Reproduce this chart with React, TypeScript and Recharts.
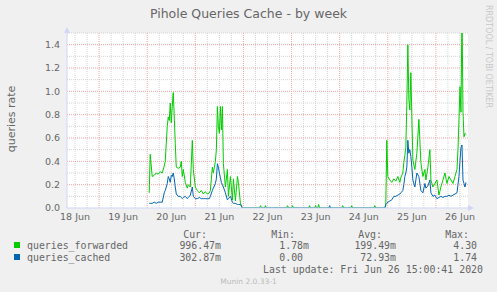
import React from 'react';
import { LineChart, Line, XAxis, YAxis, CartesianGrid, ReferenceLine } from 'recharts';

// time in hours since 18 Jun 00:00
const hours = [
  49, 49.5, 50.5, 51.5, 52.5, 53.5, 54.5, 55.5, 56.5, 57,
  58, 58.5, 59, 59.5, 60, 60.5, 61, 61.5, 62, 62.5,
  63.5, 64.5, 65, 65.5, 66, 67, 68, 68.5, 69.5, 70.5,
  71, 72, 73, 74, 75, 76, 77, 78, 79, 79.5,
  80.5, 81, 82, 82.5, 83, 83.5, 84, 84.5, 85, 85.5,
  86, 87, 88, 88.5, 89.5, 90.5, 91, 92, 93, 93.5,
  94.5, 95.5,
  96, 104, 104.5, 105, 106.5, 107, 107.5, 117.5, 118, 118.5,
  120, 120.5, 121, 128.5, 129, 129.5, 131.5, 132, 132.5, 133,
  133.5, 134, 138.5, 139, 139.5, 145, 145.5, 146, 149.5, 150,
  150.5, 161, 161.5, 162, 166.5,
  167, 167.5, 168, 169, 170, 171, 172, 173, 174, 174.5,
  175.5, 176, 176.5, 177, 177.5, 178, 178.5, 179, 179.5, 180,
  180.5, 181.5, 182.5, 183.5, 184.5, 185.5, 186.5, 187, 188, 189,
  189.5, 190.5, 191.5, 192.5, 193.5, 194.5, 195.5, 196.5, 197.5, 198.5,
  199.5, 200.5, 201.5, 202.5, 203, 203.5, 204, 204.5, 205, 205.5,
  206, 206.5, 207,
];

const forwarded = [
  0.13, 0.46, 0.27, 0.28, 0.30, 0.29, 0.31, 0.30, 0.36, 0.40,
  0.70, 0.78, 0.75, 0.90, 0.73, 0.87, 0.99, 0.78, 0.55, 0.35,
  0.34, 0.35, 0.40, 0.27, 0.33, 0.22, 0.17, 0.20, 0.18, 0.58,
  0.33, 0.18, 0.15, 0.13, 0.15, 0.12, 0.14, 0.12, 0.13, 0.15,
  0.35, 0.30, 0.40, 0.50, 0.87, 0.70, 0.64, 0.87, 0.67, 0.87,
  0.38, 0.18, 0.33, 0.10, 0.27, 0.07, 0.25, 0.06, 0.27, 0.22,
  0.04, 0,
  0, 0, 0.02, 0, 0, 0.02, 0, 0, 0.02, 0,
  0, 0.02, 0, 0, 0.02, 0, 0, 0.02, 0, 0,
  0.03, 0, 0, 0, 0, 0, 0.02, 0, 0, 0.02,
  0, 0, 0.02, 0, 0,
  0.02, 0.58, 0.27, 0.24, 0.22, 0.25, 0.23, 0.27, 0.22, 0.26,
  0.30, 0.39, 0.45, 0.52, 0.90, 1.40, 0.93, 0.84, 1.16, 0.78,
  0.41, 0.33, 0.47, 0.76, 0.39, 0.27, 0.33, 0.24, 0.35, 0.50,
  0.24, 0.18, 0.21, 0.24, 0.11, 0.18, 0.24, 0.30, 0.21, 0.27,
  0.24, 0.21, 0.27, 0.33, 0.50, 0.76, 1.04, 0.82, 1.70, 0.82,
  0.61, 0.64, 0.63,
];

const cached = [
  0.04, 0.04, 0.04, 0.05, 0.04, 0.05, 0.05, 0.05, 0.13, 0.15,
  0.21, 0.27, 0.25, 0.22, 0.28, 0.27, 0.30, 0.25, 0.18, 0.12,
  0.10, 0.10, 0.09, 0.08, 0.09, 0.10, 0.08, 0.09, 0.11, 0.18,
  0.10, 0.08, 0.08, 0.09, 0.08, 0.08, 0.08, 0.08, 0.08, 0.10,
  0.15, 0.17, 0.21, 0.25, 0.38, 0.35, 0.30, 0.26, 0.22, 0.20,
  0.18, 0.13, 0.07, 0.08, 0.10, 0.05, 0.04, 0.04, 0.03, 0.03,
  0.03, 0,
  0, 0, 0, 0, 0, 0, 0, 0, 0, 0,
  0, 0, 0, 0, 0, 0, 0, 0, 0, 0,
  0, 0, 0, 0.02, 0, 0, 0, 0, 0, 0,
  0, 0, 0, 0, 0,
  0.03, 0.04, 0.05, 0.06, 0.07, 0.10, 0.10, 0.11, 0.12, 0.13,
  0.15, 0.20, 0.27, 0.30, 0.35, 0.58, 0.47, 0.50, 0.44, 0.35,
  0.24, 0.18, 0.30, 0.27, 0.15, 0.13, 0.21, 0.17, 0.19, 0.24,
  0.13, 0.10, 0.11, 0.08, 0.09, 0.10, 0.09, 0.10, 0.10, 0.11,
  0.10, 0.11, 0.12, 0.13, 0.20, 0.27, 0.40, 0.52, 0.54, 0.24,
  0.21, 0.18, 0.22,
];

const dayTickHours = [12, 36, 60, 84, 108, 132, 156, 180, 204];
const dayLabels = ['18 Jun', '19 Jun', '20 Jun', '21 Jun', '22 Jun', '23 Jun', '24 Jun', '25 Jun', '26 Jun'];
const dayBoundaries = [24, 48, 72, 96, 120, 144, 168, 192];
const yTicks = [0, 0.2, 0.4, 0.6, 0.8, 1.0, 1.2, 1.4];
const minorY = [0.1, 0.3, 0.5, 0.7, 0.9, 1.1, 1.3, 1.5];

const seriesNames = ['queries_forwarded', 'queries_cached'];
const seriesColors = ['#00CC00', '#0066B3'];
const curValues = ['996.47m', '302.87m'];
const minValues = ['1.78m', '0.00'];
const avgValues = ['199.49m', '72.93m'];
const maxValues = ['4.30', '1.74'];
const colHeaders = ['Cur:', 'Min:', 'Avg:', 'Max:'];

const sixHourLines: number[] = [];
for (let h = 12; h <= 206; h += 6) if (h % 24 !== 0) sixHourLines.push(h);

const data = hours.map((h, i) => ({ h, forwarded: forwarded[i], cached: cached[i] }));

const AXIS = '#CFD6F8';
const FONT = '#666666';
const SANS = 'DejaVu Sans';
const MONO = 'DejaVu Sans Mono';

const ArrowRight = (props: any) => {
  const vb = props.viewBox || {};
  const x = vb.x + vb.width;
  const y = vb.y;
  return <polygon points={`${x},${y - 3} ${x + 6},${y} ${x},${y + 3}`} fill={AXIS} />;
};
const ArrowUp = (props: any) => {
  const vb = props.viewBox || {};
  const x = vb.x;
  const y = vb.y;
  return <polygon points={`${x - 3},${y} ${x},${y - 6} ${x + 3},${y}`} fill={AXIS} />;
};

const pad = (v: string) => (/[a-zA-Z]$/.test(v) ? v : v + ' ');
const colEnds = [221, 309, 396, 483];

export default function App() {
  return (
    <div style={{ position: 'absolute', left: 0, top: 0, width: 497, height: 292, background: '#F0F0F0' }}>
      <LineChart width={497} height={292} data={data} margin={{ top: 33, right: 29, bottom: 64, left: 7 }}>
        <CartesianGrid
          fill="#FFFFFF"
          stroke="#d4d4d4"
          strokeDasharray="1 1"
          horizontalValues={minorY}
          verticalValues={sixHourLines}
        />
        <CartesianGrid
          stroke="#f4a4a4"
          strokeDasharray="1 1"
          fill="none"
          horizontalValues={yTicks.filter((v) => v > 0)}
          verticalValues={dayBoundaries}
        />
        <XAxis
          dataKey="h"
          type="number"
          domain={[8, 208]}
          ticks={dayTickHours}
          interval={0}
          tickFormatter={(v: number) => dayLabels[dayTickHours.indexOf(v)]}
          tickLine={false}
          tickSize={3}
          tickMargin={2}
          height={20}
          axisLine={{ stroke: AXIS }}
          tick={{ fontSize: 9.5, fill: FONT, fontFamily: SANS }}
        />
        <YAxis
          type="number"
          domain={[0, 1.5]}
          allowDataOverflow
          ticks={yTicks}
          interval={0}
          tickFormatter={(v: number) => v.toFixed(1)}
          tickLine={false}
          tickSize={5}
          tickMargin={2}
          width={60}
          axisLine={{ stroke: AXIS }}
          tick={{ fontSize: 9.5, fill: FONT, fontFamily: SANS }}
        />
        <ReferenceLine y={0} stroke="none" label={<ArrowRight />} />
        <ReferenceLine x={8} stroke="none" label={<ArrowUp />} />
        <Line
          dataKey="forwarded"
          type="linear"
          stroke={seriesColors[0]}
          strokeWidth={1}
          dot={false}
          isAnimationActive={false}
        />
        <Line
          dataKey="cached"
          type="linear"
          stroke={seriesColors[1]}
          strokeWidth={1}
          dot={false}
          isAnimationActive={false}
        />
      </LineChart>
      <svg
        width={497}
        height={292}
        style={{ position: 'absolute', left: 0, top: 0, pointerEvents: 'none' }}
      >
        <text x={248.5} y={17.5} textAnchor="middle" fontSize={12.5} fill={FONT} fontFamily={SANS}>
          Pihole Queries Cache - by week
        </text>
        <text
          x={11}
          y={119}
          transform="rotate(-90, 11, 119)"
          textAnchor="middle"
          dominantBaseline="central"
          fontSize={11}
          fill={FONT}
          fontFamily={SANS}
        >
          queries rate
        </text>
        <text
          x={488}
          y={56.5}
          transform="rotate(90, 488, 56.5)"
          textAnchor="middle"
          dominantBaseline="central"
          fontSize={8}
          fill="#c8c8c8"
          fontFamily={SANS}
        >
          RRDTOOL / TOBI OETIKER
        </text>
        {colHeaders.map((h, i) => (
          <text key={h} x={colEnds[i] - 14} y={237.5} textAnchor="end" fontSize={9.9} fill={FONT} fontFamily={MONO}>
            {h}
          </text>
        ))}
        {seriesNames.map((name, r) => {
          const y = 248.5 + r * 12;
          const vals = [curValues[r], minValues[r], avgValues[r], maxValues[r]];
          return (
            <g key={name}>
              <rect x={14} y={y - 6.5} width={6} height={6} fill={seriesColors[r]} />
              <text x={27} y={y} fontSize={9.9} fill={FONT} fontFamily={MONO}>
                {name}
              </text>
              {vals.map((v, i) => (
                <text
                  key={i}
                  x={colEnds[i]}
                  y={y}
                  textAnchor="end"
                  fontSize={9.9}
                  fill={FONT}
                  fontFamily={MONO}
                  style={{ whiteSpace: 'pre' }}
                >
                  {pad(v)}
                </text>
              ))}
            </g>
          );
        })}
        <text x={483} y={272.5} textAnchor="end" fontSize={9.9} fill={FONT} fontFamily={MONO} style={{ whiteSpace: 'pre' }}>
          Last update: Fri Jun 26 15:00:41 2020
        </text>
        <text x={248.5} y={284} textAnchor="middle" fontSize={7.5} fill="#bbbbbb" fontFamily={SANS}>
          Munin 2.0.33-1
        </text>
      </svg>
    </div>
  );
}
